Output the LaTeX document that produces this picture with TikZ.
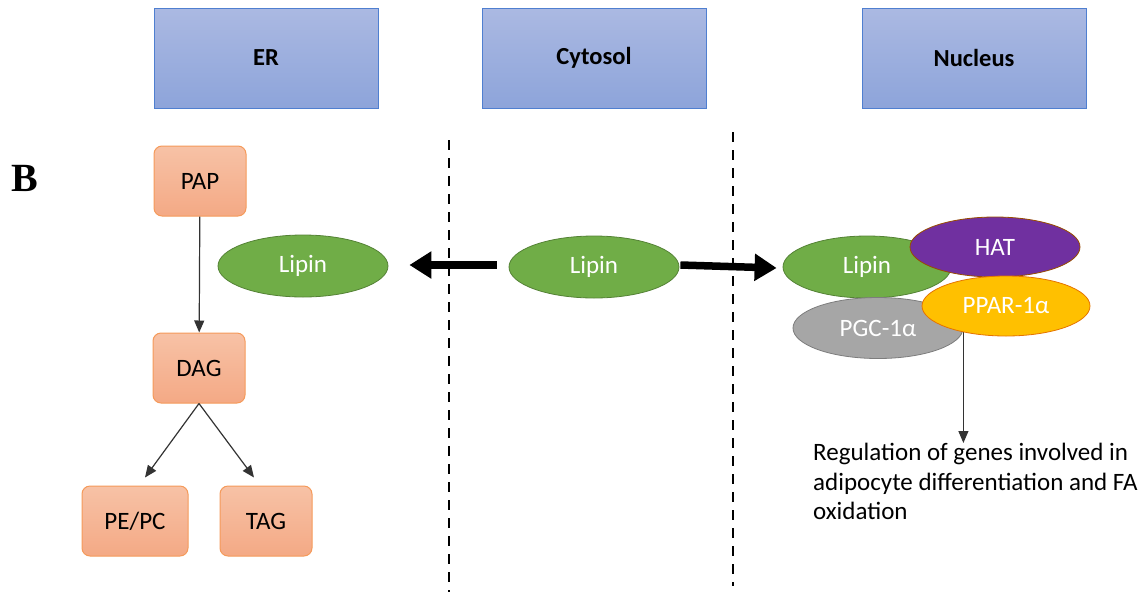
\documentclass[tikz,border=0pt]{standalone}
\usepackage{fontspec}
\setmainfont{Carlito}
\newfontfamily\panelfont{Liberation Serif}
\usepackage{tikz}
\usetikzlibrary{positioning,arrows.meta,calc,shapes.geometric}

\definecolor{hdtop}{HTML}{ABB9E2}
\definecolor{hdbot}{HTML}{8DA4DA}
\definecolor{hdline}{HTML}{4F7FD0}
\definecolor{bxtop}{HTML}{F7C2A6}
\definecolor{bxbot}{HTML}{F4A985}
\definecolor{bxline}{HTML}{F59A5A}
\definecolor{lipgreen}{HTML}{70AD47}
\definecolor{hatpurple}{HTML}{7030A0}
\definecolor{pgcgray}{HTML}{A6A6A6}
\definecolor{ppargold}{HTML}{FFC000}

\begin{document}
\begin{tikzpicture}[x=1pt,y=-1pt,
  every node/.style={font=\fontsize{25}{29.5}\selectfont},
  region/.style={draw=hdline,line width=1pt,top color=hdtop,bottom color=hdbot,minimum width=224pt,minimum height=100pt,font=\fontsize{24.5}{28}\selectfont\bfseries},
  enz/.style={draw=bxline,line width=1pt,rounded corners=8pt,top color=bxtop,bottom color=bxbot,minimum width=92pt,minimum height=70pt,inner sep=0pt},
  blob/.style={ellipse,draw=#1!75!black,fill=#1,line width=0.8pt,text=white,minimum width=170pt,minimum height=62pt,inner sep=0pt},
  flow/.style={-{Triangle[length=12pt,width=10pt]},line width=1.2pt,draw=black!80},
  move/.style={-{Triangle[length=22pt,width=26pt]},line width=7.5pt},
  divider/.style={line width=1.6pt,dash pattern=on 10pt off 8pt}
]
  \useasboundingbox (0,0) rectangle (1145,592);

  % compartments
  \node[region] (er)  at (266,58) {ER};
  \node[region] (cyt) at (594,58) {Cytosol};
  \node[region] (nuc) at (974,58) {Nucleus};
  \node[font=\panelfont\fontsize{40}{40}\selectfont\bfseries] (panel) at (25,178) {B};

  \draw[divider] (449,140) -- (449,592);
  \draw[divider] (733,132) -- (733,586);

  % ER side
  \node[enz] (pap)  at (200,181) {PAP};
  \node[enz] (dag)  at (199,368) {DAG};
  \node[enz,minimum width=106pt] (pepc) at (135,521) {PE/PC};
  \node[enz] (tag)  at (266,521) {TAG};
  \node[blob=lipgreen] (lipER) at (303,266) {Lipin};

  \draw[flow] (pap) -- (dag);
  \draw[flow] (dag.south) -- ($(pepc.north)+(10,-8)$);
  \draw[flow] (dag.south) -- ($(tag.north)+(-12,-8)$);

  % cytosol
  \node[blob=lipgreen] (lipC) at (594,267) {Lipin};

  % nucleus complex
  \node[blob=lipgreen,minimum width=168pt] (lipN) at (867,267) {Lipin};
  \node[blob=pgcgray,minimum height=61pt] (pgc) at (878,328) {PGC-1α};
  \node[blob=hatpurple,draw=orange!60!black,minimum height=60pt] (hat) at (995,247) {HAT};
  \node[anchor=north west,align=left,inner sep=0pt] (reg) at (813,443)
    {Regulation of genes involved in\\adipocyte differentiation and FA\\oxidation};
  \draw[flow] (pgc.east) -- (pgc.east |- reg.north);
  \node[blob=ppargold,draw=orange!90!black,minimum width=168pt,minimum height=60pt] (ppar) at (1006,306) {PPAR-1α};

  \draw[move] ($(lipC.west)+(-12,-2)$) -- ($(lipER.east)+(21,-1)$);
  \draw[move] ($(lipC.east)+(1,-2)$) -- ($(lipN.west)+(-6,1)$);
\end{tikzpicture}
\end{document}
